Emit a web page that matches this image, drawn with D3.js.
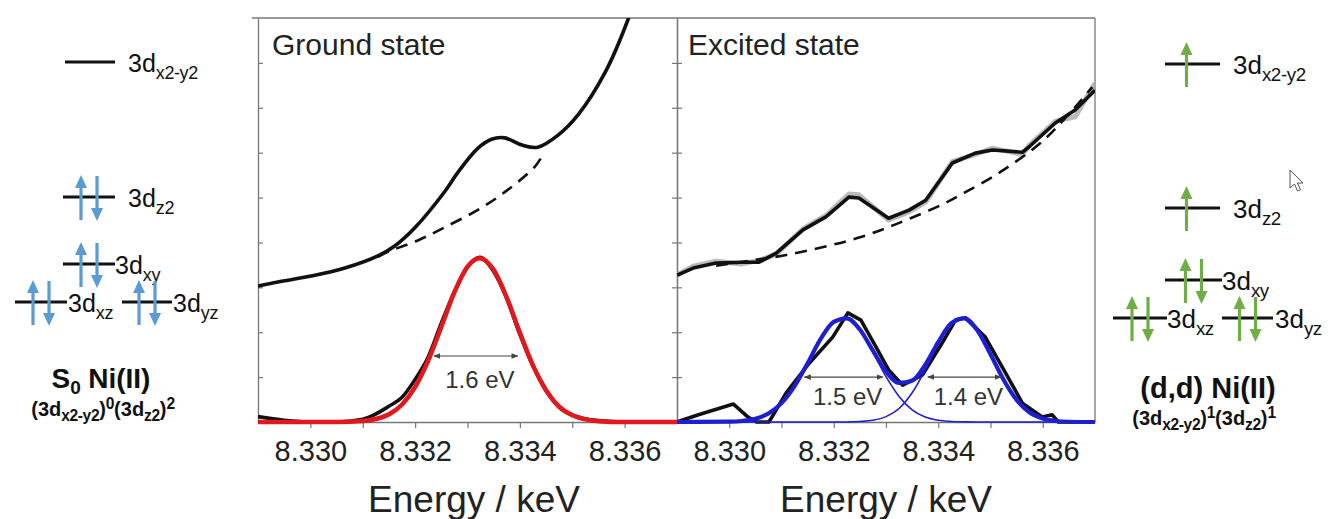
<!DOCTYPE html>
<html><head><meta charset="utf-8">
<script src="https://cdn.jsdelivr.net/npm/d3@7"></script>
<style>
html,body{margin:0;padding:0;background:#fff;}
svg{display:block;font-family:"Liberation Sans",Arial,Helvetica,sans-serif;}
</style></head><body>
<svg id="chart" width="1342" height="519"></svg>
<script>
// ---------------- data ----------------
const xTicks = [8.330, 8.331, 8.332, 8.333, 8.334, 8.335, 8.336];
const xTickLabels = [8.330, 8.332, 8.334, 8.336];
const yTicks = [1, 2, 3, 4, 5, 6, 7, 8];

// Ground state: absorption spectrum, background and pre-edge difference
const groundEnergy = [8.32900, 8.32938, 8.33001, 8.33066, 8.33129, 8.33161, 8.33199, 8.33257, 8.33281, 8.33320,
  8.33346, 8.33371, 8.33404, 8.33434, 8.33473, 8.33511, 8.33562, 8.33606, 8.33630];
const groundSpectrum = [3.03, 3.12, 3.25, 3.43, 3.70, 3.92, 4.32, 5.14, 5.55, 6.10,
  6.30, 6.33, 6.17, 6.12, 6.39, 6.84, 7.77, 8.95, 9.80];
const groundBgEnergy = [8.33129, 8.33148, 8.33206, 8.33257, 8.33319, 8.33371, 8.33428, 8.33444];
const groundBackground = [3.68, 3.79, 4.05, 4.34, 4.72, 5.12, 5.68, 5.95];
const groundDiffEnergy = [8.32900, 8.32950, 8.33000, 8.33050, 8.33100, 8.33150, 8.33175, 8.33200, 8.33225, 8.33250,
  8.33275, 8.33300, 8.33323, 8.33350, 8.33375, 8.33400, 8.33425, 8.33450, 8.33475, 8.33500, 8.33550, 8.33600, 8.33700];
const groundDiff = [0.12, 0.04, 0.00, 0.00, 0.06, 0.35, 0.55, 0.95, 1.45, 2.20,
  2.90, 3.45, 3.67, 3.35, 2.75, 1.95, 1.25, 0.72, 0.33, 0.16, 0.03, 0.00, 0.00];
const groundFitEnergy = [8.32900, 8.33000, 8.33050, 8.33100, 8.33150, 8.33175, 8.33200, 8.33225, 8.33250, 8.33275,
  8.33300, 8.33323, 8.33350, 8.33375, 8.33400, 8.33425, 8.33450, 8.33475, 8.33500, 8.33550, 8.33600, 8.33700];
const groundFit = [0, 0, 0.002, 0.023, 0.17, 0.39, 0.78, 1.37, 2.12, 2.89,
  3.46, 3.65, 3.39, 2.77, 1.99, 1.26, 0.70, 0.34, 0.15, 0.019, 0, 0];
const groundFwhm = [1.6];
const groundFwhmCenter = [8.33316];
const groundFwhmLevel = [1.47];

// Excited state: spectrum (smoothed and raw), background and difference
const excitedEnergy = [8.32900, 8.32931, 8.32975, 8.33023, 8.33057, 8.33090, 8.33141, 8.33185, 8.33229, 8.33248,
  8.33305, 8.33344, 8.33376, 8.33427, 8.33471, 8.33504, 8.33561, 8.33573, 8.33624, 8.33662, 8.33700];
const excitedSpectrum = [3.27, 3.43, 3.54, 3.56, 3.56, 3.76, 4.28, 4.57, 5.01, 4.99,
  4.54, 4.72, 4.94, 5.77, 5.99, 6.06, 6.01, 6.12, 6.66, 6.95, 7.39];
const excitedRaw = [3.27, 3.47, 3.58, 3.52, 3.60, 3.74, 4.30, 4.60, 5.08, 5.06,
  4.50, 4.68, 4.90, 5.80, 5.96, 6.10, 5.96, 6.15, 6.70, 6.80, 7.55];
const excitedBgEnergy = [8.32975, 8.33061, 8.33109, 8.33195, 8.33252, 8.33300, 8.33347, 8.33405, 8.33452, 8.33519,
  8.33595, 8.33643, 8.33695];
const excitedBackground = [3.48, 3.63, 3.72, 3.94, 4.12, 4.32, 4.54, 4.83, 5.12, 5.57,
  6.21, 6.77, 7.46];
const excitedDiffEnergy = [8.32900, 8.32941, 8.33008, 8.33036, 8.33052, 8.33076, 8.33109, 8.33153, 8.33198, 8.33227,
  8.33252, 8.33281, 8.33305, 8.33332, 8.33370, 8.33408, 8.33433, 8.33452, 8.33490, 8.33529,
  8.33561, 8.33599, 8.33618, 8.33630, 8.33700];
const excitedDiff = [0, 0.16, 0.40, 0.11, 0, 0, 0.65, 1.31, 1.89, 2.43,
  2.27, 1.67, 1.16, 0.82, 1.05, 1.77, 2.27, 2.32, 1.89, 1.09,
  0.42, 0.11, 0.16, 0, 0];
const excitedFitEnergy = [8.32900,
  8.33000, 8.33025, 8.33050, 8.33075, 8.33100, 8.33125, 8.33150, 8.33175, 8.33200, 8.33225,
  8.33250, 8.33275, 8.33300, 8.33325, 8.33350, 8.33375, 8.33400, 8.33425, 8.33450, 8.33475,
  8.33500, 8.33525, 8.33550, 8.33575, 8.33600, 8.33625, 8.33650,
  8.33700];
const excitedFit1 = [0,
  0.007, 0.023, 0.071, 0.19, 0.42, 0.80, 1.31, 1.85, 2.23, 2.31,
  2.05, 1.55, 1.01, 0.57, 0.27, 0.11, 0.039, 0.012, 0.003, 0,
  0, 0, 0, 0, 0, 0, 0,
  0];
const excitedFit2 = [0,
  0, 0, 0, 0, 0, 0, 0, 0, 0, 0,
  0.011, 0.039, 0.12, 0.30, 0.65, 1.16, 1.74, 2.19, 2.31, 2.04,
  1.51, 0.94, 0.49, 0.21, 0.077, 0.023, 0.006,
  0];
const excitedFitSum = [0,
  0.007, 0.023, 0.071, 0.19, 0.42, 0.80, 1.31, 1.85, 2.23, 2.31,
  2.06, 1.59, 1.13, 0.87, 0.92, 1.27, 1.78, 2.20, 2.31, 2.04,
  1.51, 0.94, 0.49, 0.21, 0.077, 0.023, 0.006,
  0];
const excitedFwhm = [1.5, 1.4];
const excitedFwhmCenter = [8.33219, 8.33450];
const excitedFwhmLevel = [1.0, 1.0];

// d-orbital occupancies
const orbitals = ["x2-y2", "z2", "xy", "xz", "yz"];
const groundOccupancy = [0, 2, 2, 2, 2];
const excitedOccupancy = [1, 1, 2, 2, 2];

// ---------------- layout ----------------
const svg = d3.select("#chart");
const plotTop = 18, plotBottom = 422;
const panels = [
  { left: 258, right: 677, title: "Ground state", titleX: 272, axisTitleX: 474 },
  { left: 677, right: 1095, title: "Excited state", titleX: 688, axisTitleX: 886 }
];
const y = d3.scaleLinear().domain([0, 9]).range([plotBottom, plotTop]);
const frameColor = "#777";
const fmt = d3.format(".3f");
const toPts = (xs, ys) => xs.map((e, i) => [e, ys[i]]);

const defs = svg.append("defs");
const mk = defs.append("marker").attr("id", "head").attr("viewBox", "0 0 10 10")
  .attr("refX", 9).attr("refY", 5).attr("markerWidth", 7).attr("markerHeight", 7)
  .attr("orient", "auto-start-reverse").attr("markerUnits", "userSpaceOnUse");
mk.append("path").attr("d", "M0,1 L10,5 L0,9 Z").attr("fill", "#444");

panels.forEach((p, i) => {
  p.x = d3.scaleLinear().domain([8.329, 8.337]).range([p.left, p.right]);
  defs.append("clipPath").attr("id", "clip" + i).append("rect")
    .attr("x", p.left).attr("y", plotTop).attr("width", p.right - p.left).attr("height", plotBottom - plotTop + 5);
});

// frame
svg.append("line").attr("x1", 252).attr("x2", 1095).attr("y1", plotTop).attr("y2", plotTop)
  .attr("stroke", frameColor).attr("stroke-width", 1.3);
svg.append("line").attr("x1", 1095).attr("x2", 1095).attr("y1", plotTop).attr("y2", plotBottom)
  .attr("stroke", frameColor).attr("stroke-width", 1.3);

// x axes
panels.forEach(p => {
  const ax = d3.axisBottom(p.x).tickValues(xTicks).tickSize(6).tickSizeOuter(0).tickPadding(12)
    .tickFormat(d => xTickLabels.some(v => Math.abs(v - d) < 1e-9) ? fmt(d) : "");
  const g = svg.append("g").attr("transform", `translate(0,${plotBottom})`).call(ax);
  g.select(".domain").attr("stroke", frameColor).attr("stroke-width", 1.3);
  g.selectAll(".tick line").attr("stroke", frameColor).attr("stroke-width", 1.2);
  g.selectAll(".tick text").attr("font-size", 29).attr("fill", "#222")
    .attr("font-family", "'Liberation Sans', Arial, sans-serif");
  svg.append("text").attr("x", p.axisTitleX).attr("y", 512).attr("text-anchor", "middle")
    .attr("font-size", 37).attr("fill", "#222").text("Energy / keV");
  svg.append("text").attr("x", p.titleX).attr("y", 55)
    .attr("font-size", 30).attr("fill", "#222").text(p.title);
});

// y axes (inward ticks, no labels)
function yAxis(gen, x) {
  const g = svg.append("g").attr("transform", `translate(${x},0)`)
    .call(gen(y).tickValues(yTicks).tickSize(5).tickSizeOuter(0).tickFormat(""));
  g.select(".domain").attr("stroke", frameColor).attr("stroke-width", 1.3);
  g.selectAll(".tick line").attr("stroke", frameColor).attr("stroke-width", 1.2);
}
yAxis(d3.axisRight, 258);
yAxis(d3.axisLeft, 677);
yAxis(d3.axisRight, 677);

// curves
function drawLine(pi, xs, ys, style, curve) {
  const p = panels[pi];
  const line = d3.line().x(d => p.x(d[0])).y(d => y(d[1])).curve(curve || d3.curveMonotoneX);
  const path = svg.append("path").attr("clip-path", `url(#clip${pi})`)
    .attr("d", line(toPts(xs, ys))).attr("fill", "none")
    .attr("stroke-linejoin", "round").attr("stroke-linecap", "butt");
  Object.entries(style).forEach(([k, v]) => path.attr(k, v));
  return path;
}

const red = "#e4171c", blue = "#1f1fd2", ink = "#111";

// ground state
drawLine(0, groundEnergy, groundSpectrum, { stroke: ink, "stroke-width": 3.6 }, d3.curveCatmullRom);
drawLine(0, groundBgEnergy, groundBackground, { stroke: ink, "stroke-width": 2.6, "stroke-dasharray": "12,8" }, d3.curveCatmullRom);
drawLine(0, groundDiffEnergy, groundDiff, { stroke: ink, "stroke-width": 3.6 });
drawLine(0, groundFitEnergy, groundFit, { stroke: red, "stroke-width": 4.5 });

// excited state
drawLine(1, excitedEnergy, excitedRaw, { stroke: "#aaa", "stroke-width": 5, opacity: 0.8 }, d3.curveLinear);
drawLine(1, excitedEnergy, excitedSpectrum, { stroke: ink, "stroke-width": 3.6 }, d3.curveLinear);
drawLine(1, excitedBgEnergy, excitedBackground, { stroke: ink, "stroke-width": 2.6, "stroke-dasharray": "12,8" }, d3.curveCatmullRom);
drawLine(1, excitedDiffEnergy, excitedDiff, { stroke: ink, "stroke-width": 3.6 }, d3.curveLinear);
drawLine(1, excitedFitEnergy, excitedFit1, { stroke: blue, "stroke-width": 1.6 });
drawLine(1, excitedFitEnergy, excitedFit2, { stroke: blue, "stroke-width": 1.6 });
drawLine(1, excitedFitEnergy, excitedFitSum, { stroke: blue, "stroke-width": 4.2 });

// FWHM markers
function fwhmMarks(pi, widths, centers, levels, labelDy) {
  const p = panels[pi];
  widths.forEach((w, i) => {
    const half = w / 2 / 1000;
    const yy = y(levels[i]);
    svg.append("line").attr("x1", p.x(centers[i] - half)).attr("x2", p.x(centers[i] + half))
      .attr("y1", yy).attr("y2", yy).attr("stroke", "#444").attr("stroke-width", 1.2)
      .attr("marker-start", "url(#head)").attr("marker-end", "url(#head)");
    svg.append("text").attr("x", p.x(centers[i]) + 4).attr("y", yy + labelDy)
      .attr("text-anchor", "middle").attr("font-size", 24).attr("fill", "#333")
      .text(`${w.toFixed(1)} eV`);
  });
}
fwhmMarks(0, groundFwhm, groundFwhmCenter, groundFwhmLevel, 32);
fwhmMarks(1, excitedFwhm, excitedFwhmCenter, excitedFwhmLevel, 28);

// ---------------- orbital diagrams ----------------
function rich(x, y0, parts, size, opts) {
  const o = Object.assign({ weight: "normal", anchor: "start", sub: 0.72, subDy: 0.27, supDy: -0.36 }, opts || {});
  const t = svg.append("text").attr("x", x).attr("y", y0).attr("font-size", size)
    .attr("font-weight", o.weight).attr("text-anchor", o.anchor).attr("fill", "#111");
  let shift = 0;
  parts.forEach(pt => {
    const target = pt.sub ? size * o.subDy : pt.sup ? size * o.supDy : 0;
    const ts = t.append("tspan").attr("dy", target - shift).text(pt.t);
    if (pt.sub || pt.sup) ts.attr("font-size", size * o.sub).attr("letter-spacing", -0.4);
    shift = target;
  });
  return t;
}

function spin(x, yc, up, color) {
  const tip = up ? yc - 22 : yc + 24, tail = up ? yc + 23 : yc - 21;
  const hl = 13, hw = 6, s = up ? 1 : -1;
  svg.append("line").attr("x1", x).attr("x2", x).attr("y1", tail).attr("y2", tip + s * (hl - 1))
    .attr("stroke", color).attr("stroke-width", 3.2);
  svg.append("path").attr("d", `M${x},${tip} L${x - hw},${tip + s * hl} L${x + hw},${tip + s * hl} Z`)
    .attr("fill", color);
}

function diagram(levels, occupancy, color, labelSize) {
  levels.forEach((lv, i) => {
    svg.append("line").attr("x1", lv.x1).attr("x2", lv.x2).attr("y1", lv.y).attr("y2", lv.y)
      .attr("stroke", "#111").attr("stroke-width", 3);
    const mid = (lv.x1 + lv.x2) / 2;
    const n = occupancy[i];
    if (n === 1) spin(mid - 6, lv.y, true, color);
    if (n === 2) { spin(mid - 8, lv.y, true, color); spin(mid + 8, lv.y, false, color); }
    rich(lv.lx, lv.y + 10, [{ t: "3d" }, { t: orbitals[i], sub: true }], labelSize);
  });
}

diagram([
  { x1: 65, x2: 115, y: 62, lx: 128 },
  { x1: 63, x2: 115, y: 197, lx: 128 },
  { x1: 63, x2: 115, y: 264, lx: 115 },
  { x1: 15, x2: 67, y: 302, lx: 68 },
  { x1: 122, x2: 172, y: 302, lx: 173 }
], groundOccupancy, "#5b9bd5", 25);

diagram([
  { x1: 1165, x2: 1220, y: 64, lx: 1233 },
  { x1: 1165, x2: 1220, y: 208, lx: 1233 },
  { x1: 1165, x2: 1222, y: 280, lx: 1222 },
  { x1: 1113, x2: 1167, y: 318, lx: 1167 },
  { x1: 1222, x2: 1273, y: 318, lx: 1275 }
], excitedOccupancy, "#70ad47", 26);

rich(101, 388, [{ t: "S" }, { t: "0", sub: true }, { t: " Ni(II)" }], 28, { weight: "bold", anchor: "middle", sub: 0.68, subDy: 0.22 });
rich(103, 416, [{ t: "(3d" }, { t: "x2-y2", sub: true }, { t: ")" }, { t: "0", sup: true },
  { t: "(3d" }, { t: "z2", sub: true }, { t: ")" }, { t: "2", sup: true }], 20,
  { weight: "bold", anchor: "middle", sub: 0.78, subDy: 0.25, supDy: -0.35 });

rich(1208, 398, [{ t: "(d,d) Ni(II)" }], 29, { weight: "bold", anchor: "middle" });
rich(1204, 425, [{ t: "(3d" }, { t: "x2-y2", sub: true }, { t: ")" }, { t: "1", sup: true },
  { t: "(3d" }, { t: "z2", sub: true }, { t: ")" }, { t: "1", sup: true }], 20,
  { weight: "bold", anchor: "middle", sub: 0.78, subDy: 0.25, supDy: -0.35 });

// pointer
svg.append("path").attr("transform", "translate(1290,170)")
  .attr("d", "M0,0 L0,18 L4.5,14 L7.5,21 L10.5,19.8 L7.5,13 L13,13 Z")
  .attr("fill", "#fff").attr("stroke", "#555").attr("stroke-width", 1);
</script>
</body></html>
